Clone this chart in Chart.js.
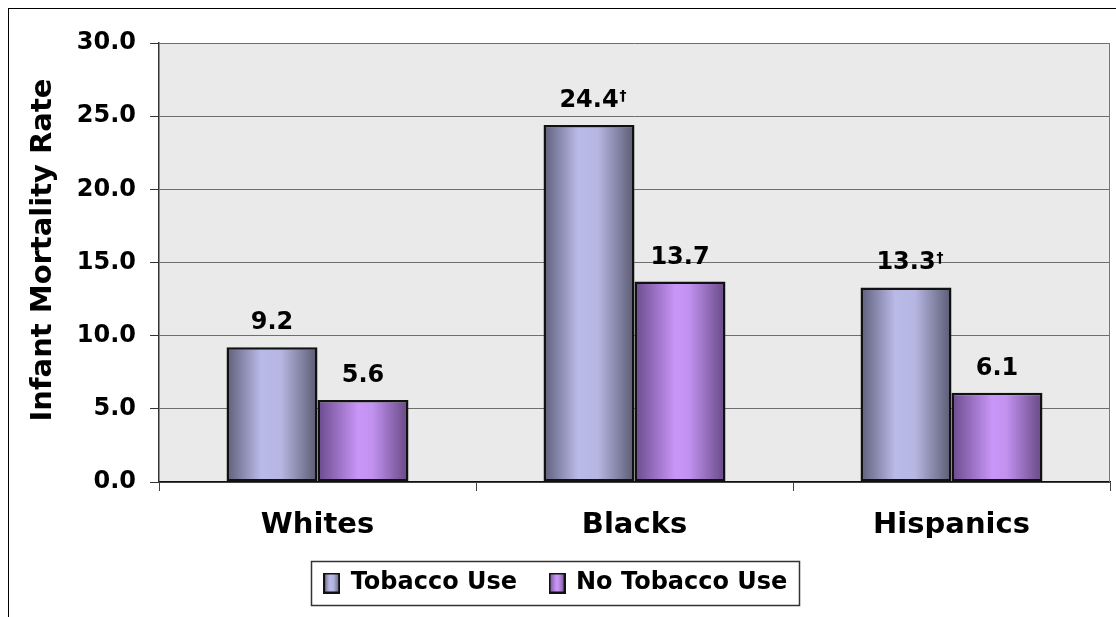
<!DOCTYPE html>
<html>
<head>
<meta charset="utf-8">
<script src="https://cdn.jsdelivr.net/npm/chart.js@4.4.1/dist/chart.umd.min.js"></script>
<style>
  html,body{margin:0;padding:0;background:#fff;overflow:hidden;}
  #frame{position:absolute;left:8px;top:8px;width:1200px;height:700px;border:1px solid #000;box-sizing:border-box;}
  #wrap{position:absolute;left:0;top:0;width:1116px;height:617px;}
</style>
</head>
<body>
<div id="frame"></div>
<div id="wrap"><canvas id="chart" width="1116" height="617"></canvas></div>
<script>
// Data
const categories   = ['Whites', 'Blacks', 'Hispanics'];
const tobaccoUse   = [9.2, 24.4, 13.3];
const noTobaccoUse = [5.6, 13.7, 6.1];
const tobaccoDagger   = [false, true, true];
const noTobaccoDagger = [false, false, false];
const seriesNames  = ['Tobacco Use', 'No Tobacco Use'];
const yTitle       = 'Infant Mortality Rate';

const FONT = '"DejaVu Sans", Verdana, sans-serif';
const CAT_PCT = 0.574;

// gradient stops: edge dark -> light middle -> edge dark
const STOPS = [
  [[0,'#5e5e7a'],[0.38,'#babae8'],[0.6,'#b6b6e2'],[1,'#5a5a72']],
  [[0,'#6a4a8c'],[0.45,'#c896f8'],[0.6,'#c292f0'],[1,'#664884']]
];

function gradient(ctx2d, x0, x1, stops){
  const g = ctx2d.createLinearGradient(x0, 0, x1, 0);
  stops.forEach(s => g.addColorStop(s[0], s[1]));
  return g;
}

function barFill(ds){
  return c => {
    const chart = c.chart, xs = chart.scales.x;
    if (!xs || c.dataIndex === undefined) return STOPS[ds][1][1];
    const center = xs.getPixelForValue(c.dataIndex);
    const barW = (xs.width / categories.length) * CAT_PCT / 2;
    const left = center - barW + ds * barW;
    return gradient(chart.ctx, left, left + barW, STOPS[ds]);
  };
}

// legend swatches as small canvases
function swatch(ds){
  const cv = document.createElement('canvas');
  cv.width = 17; cv.height = 21;
  const g = cv.getContext('2d');
  g.fillStyle = gradient(g, 0, 17, STOPS[ds]);
  g.fillRect(0, 0, 17, 21);
  g.strokeStyle = '#111'; g.lineWidth = 2;
  g.strokeRect(1, 1, 15, 19);
  return cv;
}
const swatches = [swatch(0), swatch(1)];

const plotFrame = {
  id: 'plotFrame',
  beforeDraw(chart){
    const {ctx, chartArea:a} = chart;
    ctx.save();
    ctx.fillStyle = '#eaeaea';
    ctx.fillRect(a.left, a.top, a.right - a.left, a.bottom - a.top);
    ctx.restore();
  },
  afterDraw(chart){
    const {ctx, chartArea:a} = chart;
    ctx.save();
    ctx.strokeStyle = '#777';
    ctx.lineWidth = 1;
    ctx.beginPath();
    ctx.moveTo(a.right - 0.5, a.top);
    ctx.lineTo(a.right - 0.5, a.bottom);
    ctx.stroke();
    // y axis title, sitting a little above the axis middle
    ctx.translate(43, 250);
    ctx.rotate(-Math.PI / 2);
    ctx.font = 'bold 29px ' + FONT;
    ctx.fillStyle = '#000';
    ctx.textAlign = 'center';
    ctx.textBaseline = 'middle';
    ctx.fillText(yTitle, 0, 0);
    ctx.setTransform(1, 0, 0, 1, 0, 0);
    // box round the legend
    const hb = chart.legend && chart.legend.legendHitBoxes;
    if (hb && hb.length){
      const last = hb[hb.length - 1];
      const cy = hb[0].top + hb[0].height / 2;
      const l = hb[0].left - 14, r = last.left + last.width + 11;
      ctx.strokeStyle = '#333';
      ctx.lineWidth = 1.5;
      ctx.strokeRect(Math.round(l) + 0.5, Math.round(cy - 22) + 0.5, Math.round(r - l), 44);
    }
    ctx.restore();
  }
};

const valueLabels = {
  id: 'valueLabels',
  afterDatasetsDraw(chart){
    const ctx = chart.ctx;
    const flags = [tobaccoDagger, noTobaccoDagger];
    ctx.save();
    ctx.fillStyle = '#000';
    chart.data.datasets.forEach((ds, di) => {
      chart.getDatasetMeta(di).data.forEach((bar, i) => {
        const txt = ds.data[i].toFixed(1);
        ctx.font = 'bold 24px ' + FONT;
        ctx.textAlign = 'center';
        ctx.textBaseline = 'alphabetic';
        const y = bar.y - 18;
        ctx.fillText(txt, bar.x, y);
        if (flags[di][i]){
          const w = ctx.measureText(txt).width;
          ctx.font = 'bold 14px ' + FONT;
          ctx.textAlign = 'left';
          ctx.fillText('\u2020', bar.x + w / 2 + 1, y - 7);
        }
      });
    });
    ctx.restore();
  }
};

new Chart(document.getElementById('chart'), {
  type: 'bar',
  data: {
    labels: categories,
    datasets: [
      {label: seriesNames[0], data: tobaccoUse, backgroundColor: barFill(0),
       borderColor: '#111', borderWidth: 2.5, borderSkipped: false,
       categoryPercentage: CAT_PCT, barPercentage: 1},
      {label: seriesNames[1], data: noTobaccoUse, backgroundColor: barFill(1),
       borderColor: '#111', borderWidth: 2.5, borderSkipped: false,
       categoryPercentage: CAT_PCT, barPercentage: 1}
    ]
  },
  options: {
    responsive: false,
    animation: false,
    layout: {padding: {left: 2, right: 6, top: 43, bottom: 12}},
    plugins: {
      tooltip: {enabled: false},
      legend: {
        position: 'bottom',
        labels: {
          font: {family: FONT, size: 24, weight: 'bold'},
          color: '#000',
          usePointStyle: true,
          pointStyleWidth: 14,
          padding: 33,
          generateLabels: () => seriesNames.map((t, i) => ({
            text: t, datasetIndex: i, pointStyle: swatches[i],
            fillStyle: 'transparent', strokeStyle: 'transparent', lineWidth: 0
          }))
        }
      }
    },
    scales: {
      x: {
        afterFit: s => { s.height = 56; },
        grid: {display: true, drawOnChartArea: false, drawTicks: true, tickLength: 9, color: '#444', offset: true},
        border: {display: true, color: '#111', width: 1.5},
        ticks: {font: {family: FONT, size: 29, weight: 'bold'}, color: '#000', padding: 17}
      },
      y: {
        min: 0, max: 30,
        afterFit: s => { s.width = 157; },
        grid: {color: '#6e6e6e', lineWidth: 1, tickLength: 9, tickColor: '#333'},
        border: {display: true, color: '#333', width: 1.5},
        ticks: {stepSize: 5, font: {family: FONT, size: 24, weight: 'bold'}, color: '#000', padding: 14,
                callback: v => Number(v).toFixed(1)}
      }
    }
  },
  plugins: [plotFrame, valueLabels]
});
</script>
</body>
</html>
